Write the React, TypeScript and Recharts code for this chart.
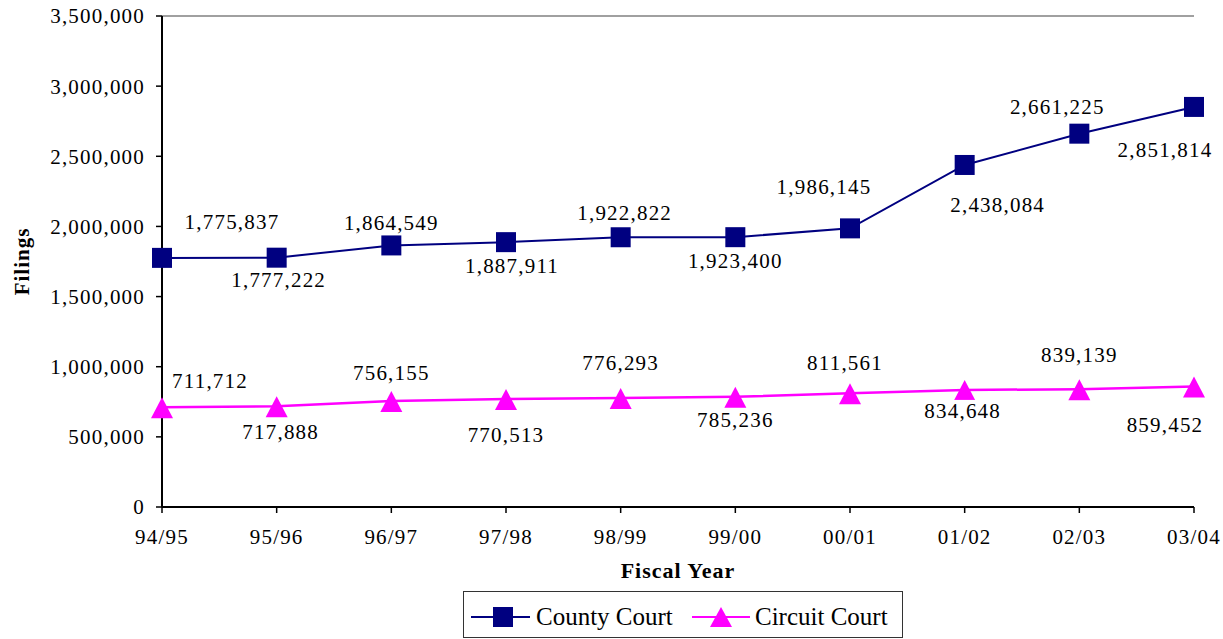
import React from 'react';
import { LineChart, Line, XAxis, YAxis, ReferenceLine, Legend, LabelList, Label } from 'recharts';

const years = ['94/95', '95/96', '96/97', '97/98', '98/99', '99/00', '00/01', '01/02', '02/03', '03/04'];
const countyCourt = [1775837, 1777222, 1864549, 1887911, 1922822, 1923400, 1986145, 2438084, 2661225, 2851814];
const circuitCourt = [711712, 717888, 756155, 770513, 776293, 785236, 811561, 834648, 839139, 859452];
const yTicks = [0, 500000, 1000000, 1500000, 2000000, 2500000, 3000000, 3500000];

// label placement styling (offset from each marker)
const countyLabelDx = [70, 2, 0, 6, 4, 0, -26, 33, -22, -29];
const countyLabelDy = [-36, 22, -23, 23, -25, 23, -42, 40, -27, 43];
const circuitLabelDx = [48, 4, 0, 0, 0, 0, -5, -2, 0, -29];
const circuitLabelDy = [-27, 25, -28, 36, -35, 23, -30, 21, -35, 38];

const FONT = '"Liberation Serif", "Times New Roman", serif';
const NAVY = '#000080';
const MAGENTA = '#FF00FF';

const data = years.map((year, i) => ({ year, county: countyCourt[i], circuit: circuitCourt[i] }));

const fmt = (v: number) => Number(v).toLocaleString('en-US');

const makeLabel = (dxs: number[], dys: number[]) => (props: any) => {
  const { x, y, value, index } = props;
  const cx = x + dxs[index];
  const cy = y + dys[index];
  const text = fmt(value);
  const w = text.length * 10.8 + 4;
  return (
    <g key={`lab-${index}`}>
      <rect x={cx - w / 2} y={cy - 11} width={w} height={22} fill="#ffffff" />
      <text x={cx} y={cy} dy="0.35em" textAnchor="middle" fontSize={21} letterSpacing={1.2} fontFamily={FONT} fill="#000">
        {text}
      </text>
    </g>
  );
};

const SquareDot = (props: any) => {
  const { cx, cy, index } = props;
  return <rect key={`sq-${index}`} x={cx - 10} y={cy - 10} width={20} height={20} fill={NAVY} />;
};

const TriangleDot = (props: any) => {
  const { cx, cy, index } = props;
  return <path key={`tr-${index}`} d={`M${cx},${cy - 10} L${cx + 11},${cy + 11} L${cx - 11},${cy + 11} Z`} fill={MAGENTA} />;
};

const LegendBox = () => (
  <svg width={440} height={47} style={{ display: 'block' }}>
    <rect x={0.5} y={0.5} width={439} height={46} fill="#fff" stroke="#333" strokeWidth={1} />
    <line x1={8} y1={26} x2={67} y2={26} stroke={NAVY} strokeWidth={2} />
    <rect x={30} y={16} width={20} height={20} fill={NAVY} />
    <text x={73} y={34} fontSize={25} fontFamily={FONT} fill="#000">County Court</text>
    <line x1={229} y1={26} x2={287} y2={26} stroke={MAGENTA} strokeWidth={2} />
    <path d="M258,16 L269,36 L247,36 Z" fill={MAGENTA} />
    <text x={292} y={34} fontSize={25} fontFamily={FONT} fill="#000">Circuit Court</text>
  </svg>
);

export default function App() {
  return (
    <div style={{ position: 'absolute', left: 0, top: 0, width: 1223, height: 639, background: '#fff' }}>
      <LineChart width={1223} height={639} data={data} margin={{ top: 16, right: 29, left: 0, bottom: 0 }}>
        <XAxis
          dataKey="year"
          height={132}
          tickLine={{ stroke: '#000', strokeWidth: 1.5 }}
          axisLine={{ stroke: '#000', strokeWidth: 2 }}
          tickSize={6}
          tickMargin={16}
          tick={{ fontSize: 21, fontFamily: FONT, fill: '#000', letterSpacing: 1.2 } as any}
          interval={0}
        >
          <Label
            content={(p: any) => {
              const vb = p.viewBox;
              return (
                <text x={vb.x + vb.width / 2} y={vb.y + 71} textAnchor="middle" fontSize={22} fontWeight="bold" letterSpacing={1} fontFamily={FONT} fill="#000">
                  Fiscal Year
                </text>
              );
            }}
          />
        </XAxis>
        <YAxis
          yAxisId="left"
          width={162}
          domain={[0, 3500000]}
          ticks={yTicks}
          tickFormatter={fmt}
          tickLine={{ stroke: '#000', strokeWidth: 1.5 }}
          axisLine={{ stroke: '#000', strokeWidth: 2 }}
          tickSize={6}
          tickMargin={11}
          tick={{ fontSize: 21, fontFamily: FONT, fill: '#000', letterSpacing: 1.2 } as any}
        >
          <Label
            content={(p: any) => {
              const vb = p.viewBox;
              const cx = vb.x + 22;
              const cy = vb.y + vb.height / 2;
              return (
                <text x={cx} y={cy} dy="0.35em" transform={`rotate(-90, ${cx}, ${cy})`} textAnchor="middle" fontSize={21} fontWeight="bold" letterSpacing={1} fontFamily={FONT} fill="#000">
                  Filings
                </text>
              );
            }}
          />
        </YAxis>
        <YAxis yAxisId="right" orientation="right" width={0} domain={[0, 3500000]} tick={false} tickLine={false} axisLine={{ stroke: '#000', strokeWidth: 1.5 }} />
        <ReferenceLine yAxisId="left" y={3500000} stroke="#808080" strokeWidth={1.5} />
        <Line
          yAxisId="left"
          type="linear"
          dataKey="county"
          stroke={NAVY}
          strokeWidth={2}
          dot={SquareDot}
          activeDot={false}
          isAnimationActive={false}
        >
          <LabelList dataKey="county" content={makeLabel(countyLabelDx, countyLabelDy)} />
        </Line>
        <Line
          yAxisId="left"
          type="linear"
          dataKey="circuit"
          stroke={MAGENTA}
          strokeWidth={2.5}
          dot={TriangleDot}
          activeDot={false}
          isAnimationActive={false}
        >
          <LabelList dataKey="circuit" content={makeLabel(circuitLabelDx, circuitLabelDy)} />
        </Line>
        <Legend
          verticalAlign="middle"
          layout="horizontal"
          wrapperStyle={{ left: 463, top: 591, width: 440, height: 47 }}
          content={() => <LegendBox />}
        />
      </LineChart>
    </div>
  );
}
